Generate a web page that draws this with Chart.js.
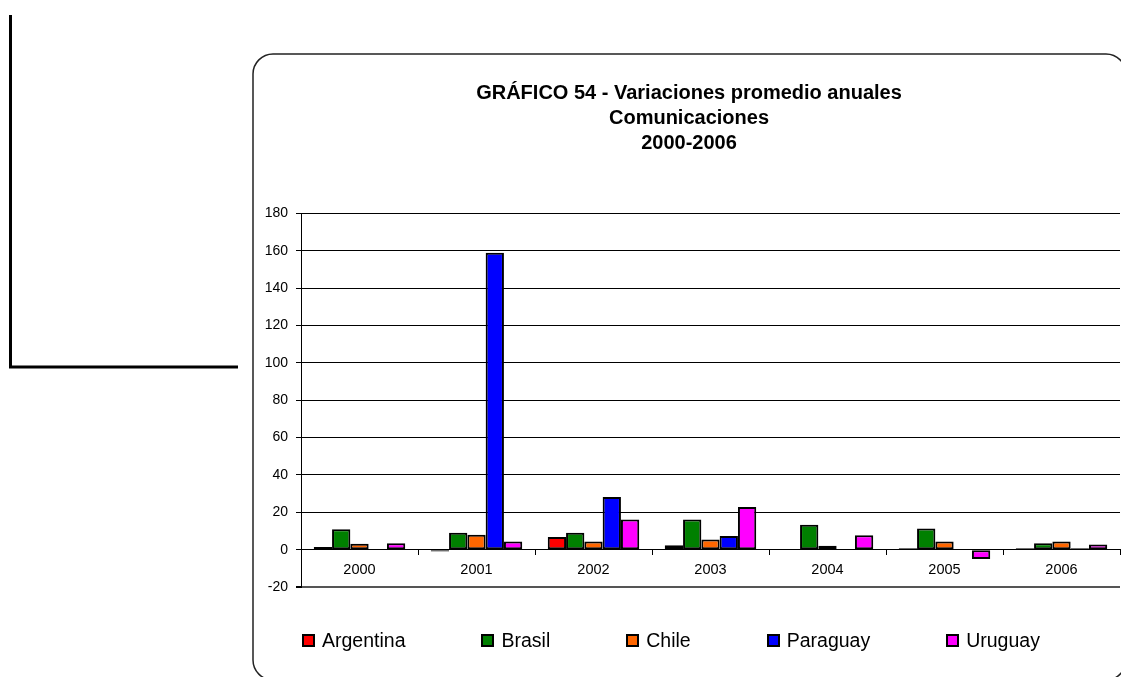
<!DOCTYPE html>
<html>
<head>
<meta charset="utf-8">
<script src="https://cdn.jsdelivr.net/npm/chart.js@4/dist/chart.umd.min.js"></script>
<style>
  html, body { margin: 0; padding: 0; background: #fff; }
  #wrap { position: relative; width: 1121px; height: 677px; overflow: hidden; }
  #c { position: absolute; left: 0; top: 0; }
  #legend { position: absolute; left: 302px; top: 629px; display: flex; gap: 76px; align-items: center;
            font-family: 'Liberation Sans', Arial, sans-serif; font-size: 19.5px; color: #000; }
  #legend .item { display: flex; align-items: center; white-space: nowrap; }
  #legend .box { width: 13px; height: 13px; box-sizing: border-box; border: 2px solid #000; margin-right: 7px; }
</style>
</head>
<body>
<div id="wrap">
  <canvas id="c" width="1121" height="677"></canvas>
  <div id="legend"></div>
</div>
<script>
const titleLines = ['GRÁFICO 54 - Variaciones promedio anuales', 'Comunicaciones', '2000-2006'];
const categories = ['2000', '2001', '2002', '2003', '2004', '2005', '2006'];
const seriesNames = ['Argentina', 'Brasil', 'Chile', 'Paraguay', 'Uruguay'];
const seriesColors = ['#FF0000', '#008000', '#FF6600', '#0000FF', '#FF00FF'];
const argentina = [1.4, -1.0, 6.8, 2.3, null, 0.8, 0.8];
const brasil    = [10.9, 9.1, 9.1, 16.1, 13.4, 11.3, 3.4];
const chile     = [3.2, 8.0, 4.4, 5.4, 2.1, 4.4, 4.4];
const paraguay  = [null, 159, 28.2, 7.3, null, null, 0.8];
const uruguay   = [3.5, 4.4, 16.1, 22.8, 7.7, -5.0, 2.8];
const yMin = -20, yMax = 180, yStep = 20;

const seriesValues = [argentina, brasil, chile, paraguay, uruguay];
const FONT = "'Liberation Sans', Arial, sans-serif";

const frame = {
  id: 'frame',
  beforeDraw(chart) {
    const ctx = chart.ctx;
    ctx.save();
    ctx.fillStyle = '#fff';
    ctx.fillRect(0, 0, chart.width, chart.height);
    ctx.strokeStyle = '#000';
    ctx.lineWidth = 3;
    ctx.beginPath();
    ctx.moveTo(10.5, 15);
    ctx.lineTo(10.5, 367);
    ctx.lineTo(238, 367);
    ctx.stroke();
    ctx.strokeStyle = '#222';
    ctx.lineWidth = 1.5;
    ctx.beginPath();
    ctx.roundRect(253, 54, 873, 626, 20);
    ctx.stroke();
    ctx.restore();
  }
};

const ds = seriesNames.map((n, i) => ({
  label: n,
  data: seriesValues[i],
  backgroundColor: seriesColors[i],
  borderColor: '#000',
  borderWidth: 2,
  borderSkipped: false,
  categoryPercentage: 0.782,
  barPercentage: 1.0
}));

const chart = new Chart(document.getElementById('c'), {
  type: 'bar',
  data: { labels: categories, datasets: ds },
  plugins: [frame],
  options: {
    responsive: false,
    animation: false,
    devicePixelRatio: 1,
    layout: { padding: { top: 0, left: 258, right: 1, bottom: 90 } },
    plugins: {
      legend: { display: false },
      tooltip: { enabled: false },
      title: {
        display: true,
        text: titleLines,
        color: '#000',
        font: { family: FONT, size: 20, weight: 'bold', lineHeight: 1.25 },
        padding: { top: 81, bottom: 57.6 }
      }
    },
    scales: {
      x: {
        axis: 'x',
        position: { y: 0 },
        offset: true,
        grid: { display: true, drawOnChartArea: false, offset: true, tickLength: 5, color: '#000', tickColor: '#000' },
        border: { display: true, color: '#000', width: 1 },
        ticks: { color: '#000', font: { family: FONT, size: 14.5 }, padding: 7, maxRotation: 0 }
      },
      y: {
        position: 'left',
        min: yMin,
        max: yMax,
        ticks: { stepSize: yStep, color: '#000', font: { family: FONT, size: 14 }, padding: 8 },
        grid: {
          color: (c) => (c.tick && c.tick.value === yMin) ? '#555' : '#000',
          lineWidth: (c) => (c.tick && c.tick.value === yMin) ? 2 : 1,
          tickLength: 5,
          tickColor: '#000'
        },
        border: { display: true, color: '#000', width: 1 },
        afterFit(scale) { scale.width = 43; }
      }
    }
  }
});

const legendEl = document.getElementById('legend');
const items = Chart.defaults.plugins.legend.labels.generateLabels(chart);
items.forEach(it => {
  const d = document.createElement('div');
  d.className = 'item';
  const b = document.createElement('span');
  b.className = 'box';
  b.style.background = it.fillStyle;
  const t = document.createElement('span');
  t.textContent = it.text;
  d.appendChild(b);
  d.appendChild(t);
  legendEl.appendChild(d);
});
</script>
</body>
</html>
